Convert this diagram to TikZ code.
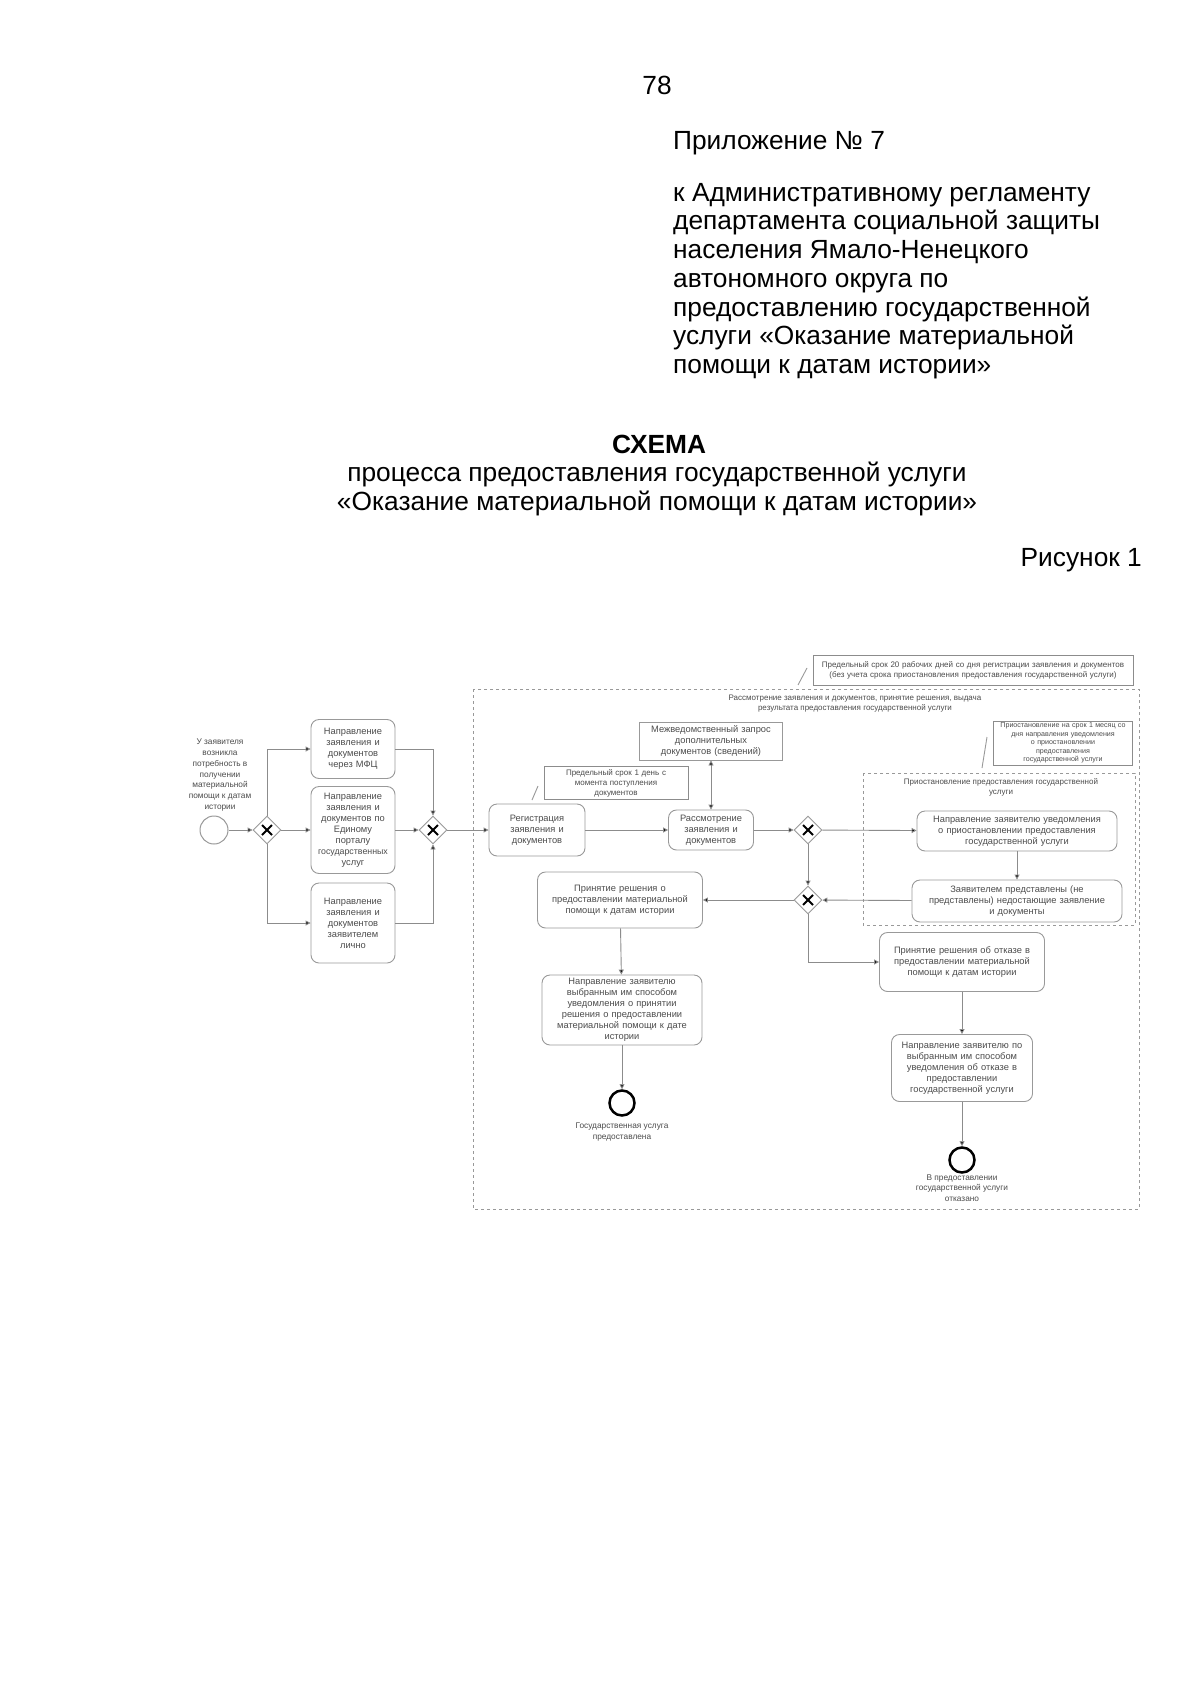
\documentclass[tikz,border=0pt]{standalone}
\usepackage{fontspec}
\setmainfont{Liberation Sans}
\usetikzlibrary{arrows.meta,shapes.geometric}
\begin{document}
\begin{tikzpicture}[x=1pt,y=-1pt,
  task/.style={draw=black!40, line width=0.9pt, rounded corners=8pt, align=center,
    font=\fontsize{9.3}{11}\selectfont, text=black!70, inner sep=2pt},
  ann/.style={draw=black!45, line width=0.9pt, align=center,
    font=\fontsize{8}{10}\selectfont, text=black!70, inner sep=2pt},
  gw/.style={diamond, draw=black!40, line width=0.9pt, minimum width=28pt, minimum height=28pt,
    inner sep=0pt, fill=white,
    path picture={\draw[line width=2pt,black] (path picture bounding box.center) ++(-5,-5) -- ++(10,10);
                  \draw[line width=2pt,black] (path picture bounding box.center) ++(-5,5) -- ++(10,-10);}},
  flow/.style={draw=black!45, line width=0.9pt, -{Triangle[length=5pt,width=5pt,fill=black]}},
  twoway/.style={draw=black!45, line width=0.9pt, {Triangle[length=5pt,width=5pt,fill=black]}-{Triangle[length=5pt,width=5pt,fill=black]}},
  assoc/.style={draw=black!40, line width=0.9pt},
  grp/.style={draw=black!40, dashed, line width=0.8pt},
  lbl/.style={align=center, font=\fontsize{8.3}{10.3}\selectfont, text=black!70, inner sep=0pt},
  glbl/.style={align=center, font=\fontsize{8}{10}\selectfont, text=black!70, inner sep=0pt},
  hdr/.style={font=\fontsize{26.3}{28.7}\selectfont, inner sep=0pt},
  ttl/.style={font=\fontsize{26.3}{29}\selectfont, inner sep=0pt, align=center}
]
\useasboundingbox (0,0) rectangle (1200,1696);
\fill[white] (0,0) rectangle (1200,1696);

% ---- header ----
\node[hdr, anchor=center] (pg) at (657,85) {78};
\node[hdr, anchor=west] (app) at (673,143) {Приложение № 7};
\node[hdr, anchor=north west, align=left] (reg0) at (673,183) {к Административному регламенту\\
департамента социальной защиты\\
населения Ямало-Ненецкого\\
автономного округа по\\
предоставлению государственной\\
услуги «Оказание материальной\\
помощи к датам истории»};
\node[ttl, font=\bfseries\fontsize{26.3}{29}\selectfont] (sch) at (659,444) {СХЕМА};
\node[ttl] (t1) at (657,474) {процесса предоставления государственной услуги};
\node[ttl] (t2) at (657,503) {«Оказание материальной помощи к датам истории»};
\node[ttl, anchor=east] (fig) at (1142,560) {Рисунок 1};

% ---- groups ----
\draw[grp] (473,689) rectangle (1139,1209);
\draw[grp] (863,773) rectangle (1135,925);
\node[glbl] (glo) at (855,704) {Рассмотрение заявления и документов, принятие решения, выдача\\результата предоставления государственной услуги};
\node[glbl] (gli) at (1001,787) {Приостановление предоставления государственной\\услуги};

% ---- annotations ----
\node[ann, minimum width=320pt, minimum height=30pt, text width=314pt] (antop) at (973,670)
  {Предельный срок 20 рабочих дней со дня регистрации заявления и документов\\(без учета срока приостановления предоставления государственной услуги)};
\node[ann, minimum width=139pt, minimum height=44pt, text width=137pt, inner sep=1pt, font=\fontsize{7.1}{8.6}\selectfont] (anin) at (1063,743)
  {Приостановление на срок 1 месяц со\\дня направления уведомления\\о приостановлении\\предоставления\\государственной услуги};
\node[ann, minimum width=144pt, minimum height=33pt, text width=136pt] (an1) at (616,783)
  {Предельный срок 1 день с\\момента поступления\\документов};
\coordinate (a1s) at (532,800); \coordinate (a1e) at (538,786);
\coordinate (a2s) at (798,685); \coordinate (a2e) at (807,668);
\coordinate (a3s) at (982,768); \coordinate (a3e) at (987,737);
\draw[assoc] (a1s) -- (a1e);
\draw[assoc] (a2s) -- (a2e);
\draw[assoc] (a3s) -- (a3e);

% ---- start ----
\node[lbl, font=\fontsize{8.3}{10.8}\selectfont] (slbl) at (220,775) {У заявителя\\возникла\\потребность в\\получении\\материальной\\помощи к датам\\истории};
\node[circle, draw=black!40, line width=1pt, minimum size=28pt, inner sep=0pt] (start) at (214,830) {};
\node[gw] (g1) at (267,830) {};

% ---- submission tasks ----
\node[task, minimum width=84pt, minimum height=59pt, text width=78pt] (b1) at (353,749)
  {Направление\\заявления и\\документов\\через МФЦ};
\node[task, minimum width=84pt, minimum height=87pt, text width=78pt] (b2) at (353,830)
  {Направление\\заявления и\\документов по\\Единому\\порталу\\{\fontsize{8.8}{11}\selectfont государственных}\\услуг};
\node[task, minimum width=84pt, minimum height=80pt, text width=78pt] (b3) at (353,923)
  {Направление\\заявления и\\документов\\заявителем\\лично};
\node[gw] (g2) at (433,830) {};

% ---- main line ----
\node[task, minimum width=96pt, minimum height=52pt, text width=86pt] (reg) at (537,830)
  {Регистрация\\заявления и\\документов};
\node[task, rounded corners=0pt, minimum width=143pt, minimum height=38pt, text width=135pt] (mvz) at (711,741)
  {Межведомственный запрос\\дополнительных\\документов (сведений)};
\node[task, minimum width=85pt, minimum height=40pt, text width=79pt] (ras) at (711,830)
  {Рассмотрение\\заявления и\\документов};
\node[gw] (g3) at (808,830) {};
\node[task, minimum width=200pt, minimum height=40pt, text width=192pt] (pri) at (1017,831)
  {Направление заявителю уведомления\\о приостановлении предоставления\\государственной услуги};
\node[task, minimum width=210pt, minimum height=42pt, text width=202pt] (zp) at (1017,901)
  {Заявителем представлены (не\\представлены) недостающие заявление\\и документы};
\node[gw] (g4) at (808,900) {};

% ---- decisions ----
\node[task, minimum width=165pt, minimum height=56pt, text width=157pt] (d1) at (620,900)
  {Принятие решения о\\предоставлении материальной\\помощи к датам истории};
\node[task, minimum width=160pt, minimum height=70pt, text width=152pt] (n1) at (622,1010)
  {Направление заявителю\\выбранным им способом\\уведомления о принятии\\решения о предоставлении\\материальной помощи к дате\\истории};
\node[circle, draw=black, line width=2.5pt, minimum size=25pt, inner sep=0pt] (e1) at (622,1103) {};
\node[lbl] (e1l) at (622,1132) {Государственная услуга\\предоставлена};

\node[task, minimum width=165pt, minimum height=59pt, text width=157pt] (d2) at (962,962)
  {Принятие решения об отказе в\\предоставлении материальной\\помощи к датам истории};
\node[task, minimum width=141pt, minimum height=67pt, text width=135pt] (n2) at (962,1068)
  {Направление заявителю по\\выбранным им способом\\уведомления об отказе в\\предоставлении\\государственной услуги};
\node[circle, draw=black, line width=2.5pt, minimum size=25pt, inner sep=0pt] (e2) at (962,1160) {};
\node[lbl] (e2l) at (962,1188) {В предоставлении\\государственной услуги\\отказано};

% ---- flows ----
\draw[flow] (start) -- (g1);
\draw[flow] (g1) -- (b2);
\draw[flow] (g1.north) |- (b1.west);
\draw[flow] (g1.south) |- (b3.west);
\draw[flow] (b1.east) -| (g2.north);
\draw[flow] (b2) -- (g2);
\draw[flow] (b3.east) -| (g2.south);
\draw[flow] (g2) -- (reg);
\draw[flow] (reg) -- (ras);
\draw[twoway] (mvz) -- (ras);
\draw[flow] (ras) -- (g3);
\draw[flow] (g3) -- (pri);
\draw[flow] (g3) -- (g4);
\draw[flow] (pri) -- (zp);
\draw[flow] (zp) -- (g4);
\draw[flow] (g4) -- (d1);
\draw[flow] (g4.south) |- (d2.west);
\draw[flow] (d1) -- (n1);
\draw[flow] (n1) -- (e1);
\draw[flow] (d2) -- (n2);
\draw[flow] (n2) -- (e2);
\end{tikzpicture}
\end{document}
